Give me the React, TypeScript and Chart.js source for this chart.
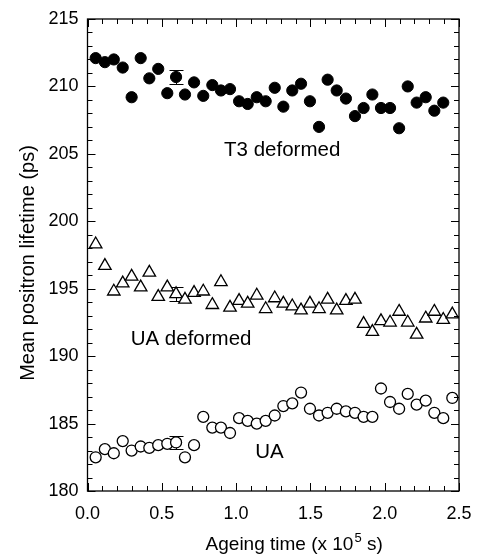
import React, { useEffect, useRef } from 'react';
import { Chart, registerables } from 'chart.js';

Chart.register(...registerables);

const FONT = '"Liberation Sans", Arial, sans-serif';

// Ageing time (x 10^5 s)
const ageing = [
  0.055, 0.117, 0.177, 0.237, 0.297, 0.358, 0.416, 0.476, 0.537, 0.596,
  0.656, 0.717, 0.779, 0.840, 0.898, 0.959, 1.020, 1.078, 1.139, 1.199,
  1.260, 1.318, 1.378, 1.437, 1.497, 1.558, 1.616, 1.677, 1.739, 1.800,
  1.858, 1.917, 1.975, 2.036, 2.097, 2.155, 2.215, 2.276, 2.334, 2.394,
  2.455,
];

// Mean positron lifetime (ps)
const t3Deformed = [
  212.1, 211.8, 212.0, 211.4, 209.2, 212.1, 210.6, 211.3, 209.5, 210.7,
  209.4, 210.3, 209.3, 210.1, 209.7, 209.8, 208.9, 208.7, 209.2, 208.9,
  209.9, 208.5, 209.7, 210.2, 208.9, 207.0, 210.5, 209.7, 209.1, 207.8,
  208.4, 209.4, 208.4, 208.4, 206.9, 210.0, 208.8, 209.2, 208.2, 208.8,
];

const uaDeformed = [
  198.3, 196.7, 194.8, 195.4, 195.9, 195.1, 196.2, 194.4, 195.1, 194.6,
  194.2, 194.7, 194.8, 193.8, 195.5, 193.6, 194.1, 193.9, 194.5, 193.5,
  194.3, 193.9, 193.7, 193.4, 193.9, 193.5, 194.2, 193.4, 194.1, 194.2,
  192.4, 191.8, 192.6, 192.5, 193.3, 192.5, 191.6, 192.8, 193.3, 192.7,
  193.1,
];

const ua = [
  182.5, 183.1, 182.8, 183.7, 183.0, 183.3, 183.2, 183.4, 183.5, 183.6,
  182.5, 183.4, 185.5, 184.7, 184.7, 184.3, 185.4, 185.2, 185.0, 185.2,
  185.6, 186.3, 186.5, 187.3, 186.1, 185.6, 185.8, 186.1, 185.9, 185.8,
  185.5, 185.5, 187.6, 186.6, 186.1, 187.2, 186.4, 186.7, 185.8, 185.4,
  186.9,
];

// One error bar per series, at the same sample
const errorIndex = 9;
const errorSize = [0.5, 0.5, 0.5];

const seriesNames = ['T3 deformed', 'UA deformed', 'UA'];
const labelX = [1.31, 0.697, 1.225];
const labelY = [204.87, 190.83, 182.44];

const xMin = 0;
const xMax = 2.5;
const xMajor = 0.5;
const xMinor = 0.1;
const yMin = 180;
const yMax = 215;
const yMajor = 5;
const yMinor = 1;

const toPoints = (ys: number[]) => ys.map((v, i) => ({ x: ageing[i], y: v }));

const framePlugin = {
  id: 'frame',
  afterDraw(chart: any) {
    const { ctx, chartArea: a, scales } = chart;
    const x = scales.x;
    const y = scales.y;
    ctx.save();
    ctx.strokeStyle = '#000';
    ctx.lineWidth = 1.3;
    ctx.strokeRect(a.left, a.top, a.right - a.left, a.bottom - a.top);
    ctx.lineWidth = 1;
    ctx.beginPath();
    const nx = Math.round((xMax - xMin) / xMinor);
    for (let i = 0; i <= nx; i++) {
      const v = xMin + i * xMinor;
      const major = i % Math.round(xMajor / xMinor) === 0;
      const len = major ? 8 : 5;
      const px = Math.round(x.getPixelForValue(v)) + 0.5;
      ctx.moveTo(px, a.bottom);
      ctx.lineTo(px, a.bottom - len);
      ctx.moveTo(px, a.top);
      ctx.lineTo(px, a.top + len);
    }
    const ny = Math.round((yMax - yMin) / yMinor);
    for (let i = 0; i <= ny; i++) {
      const v = yMin + i * yMinor;
      const major = i % Math.round(yMajor / yMinor) === 0;
      const len = major ? 8 : 5;
      const py = Math.round(y.getPixelForValue(v)) + 0.5;
      ctx.moveTo(a.left, py);
      ctx.lineTo(a.left + len, py);
      ctx.moveTo(a.right, py);
      ctx.lineTo(a.right - len, py);
    }
    ctx.stroke();

    // axis titles
    ctx.fillStyle = '#000';
    ctx.textBaseline = 'alphabetic';
    const f = 19;
    const fs = 13;
    const p1 = 'Ageing time (x 10';
    const sup = '5';
    const p2 = ' s)';
    ctx.font = `${f}px ${FONT}`;
    const w1 = ctx.measureText(p1).width;
    const w3 = ctx.measureText(p2).width;
    ctx.font = `${fs}px ${FONT}`;
    const w2 = ctx.measureText(sup).width;
    const total = w1 + w2 + w3;
    const cx = a.left + (a.right - a.left) * 0.555;
    const by = 550;
    const sx = cx - total / 2;
    ctx.font = `${f}px ${FONT}`;
    ctx.textAlign = 'left';
    ctx.fillText(p1, sx, by);
    ctx.font = `${fs}px ${FONT}`;
    ctx.fillText(sup, sx + w1 + 1, by - 8);
    ctx.font = `${f}px ${FONT}`;
    ctx.fillText(p2, sx + w1 + w2 + 1, by);

    ctx.save();
    ctx.translate(34, (a.top + a.bottom) / 2 + 8);
    ctx.rotate(-Math.PI / 2);
    ctx.textAlign = 'center';
    ctx.font = `20px ${FONT}`;
    ctx.fillText('Mean positron lifetime (ps)', 0, 0);
    ctx.restore();

    // series labels
    ctx.font = `20.5px ${FONT}`;
    ctx.textAlign = 'center';
    seriesNames.forEach((n, i) => {
      ctx.fillText(n, x.getPixelForValue(labelX[i]), y.getPixelForValue(labelY[i]));
    });
    ctx.restore();
  },
};

const errorBarPlugin = {
  id: 'errorBars',
  beforeDatasetsDraw(chart: any) {
    const { ctx, scales } = chart;
    const x = scales.x;
    const y = scales.y;
    ctx.save();
    ctx.strokeStyle = '#000';
    ctx.lineWidth = 1;
    chart.data.datasets.forEach((ds: any, i: number) => {
      const pt = ds.data[errorIndex];
      const px = Math.round(x.getPixelForValue(pt.x)) + 0.5;
      const top = Math.round(y.getPixelForValue(pt.y + errorSize[i])) + 0.5;
      const bot = Math.round(y.getPixelForValue(pt.y - errorSize[i])) + 0.5;
      ctx.beginPath();
      ctx.moveTo(px, top);
      ctx.lineTo(px, bot);
      ctx.moveTo(px - 7, top);
      ctx.lineTo(px + 7, top);
      ctx.moveTo(px - 7, bot);
      ctx.lineTo(px + 7, bot);
      ctx.stroke();
    });
    ctx.restore();
  },
};

export default function App() {
  const ref = useRef<HTMLCanvasElement | null>(null);
  useEffect(() => {
    if (!ref.current) return;
    const chart = new Chart(ref.current, {
      type: 'scatter',
      data: {
        datasets: [
          {
            label: seriesNames[0],
            data: toPoints(t3Deformed),
            pointStyle: 'circle',
            pointRadius: 5.6,
            backgroundColor: '#000',
            borderColor: '#000',
            borderWidth: 1,
          },
          {
            label: seriesNames[1],
            data: toPoints(uaDeformed),
            pointStyle: 'triangle',
            pointRadius: 7.2,
            backgroundColor: '#fff',
            borderColor: '#000',
            borderWidth: 1.3,
          },
          {
            label: seriesNames[2],
            data: toPoints(ua),
            pointStyle: 'circle',
            pointRadius: 5.5,
            backgroundColor: '#fff',
            borderColor: '#000',
            borderWidth: 1.3,
          },
        ],
      },
      options: {
        responsive: false,
        animation: false,
        events: [],
        layout: { padding: { top: 19, right: 19, left: 0, bottom: 0 } },
        plugins: {
          legend: { display: false },
          tooltip: { enabled: false },
        },
        scales: {
          x: {
            type: 'linear',
            min: xMin,
            max: xMax,
            grid: { display: false, drawTicks: false },
            border: { display: false },
            ticks: {
              stepSize: xMajor,
              autoSkip: false,
              maxRotation: 0,
              padding: 12,
              color: '#000',
              font: { family: FONT, size: 18 },
              callback: (v: any) => Number(v).toFixed(1),
            },
            afterFit: (s: any) => {
              s.height = 65;
              s.paddingLeft = 0;
              s.paddingRight = 0;
            },
          },
          y: {
            type: 'linear',
            min: yMin,
            max: yMax,
            grid: { display: false, drawTicks: false },
            border: { display: false },
            ticks: {
              stepSize: yMajor,
              autoSkip: false,
              padding: 9,
              color: '#000',
              font: { family: FONT, size: 18 },
            },
            afterFit: (s: any) => {
              s.width = 87.5;
              s.paddingTop = 0;
              s.paddingBottom = 0;
            },
          },
        },
      },
      plugins: [errorBarPlugin, framePlugin],
    });
    return () => chart.destroy();
  }, []);
  return (
    <div style={{ position: 'absolute', left: 0, top: 0, width: 478, height: 556, background: '#fff' }}>
      <canvas ref={ref} width={478} height={556} />
    </div>
  );
}
